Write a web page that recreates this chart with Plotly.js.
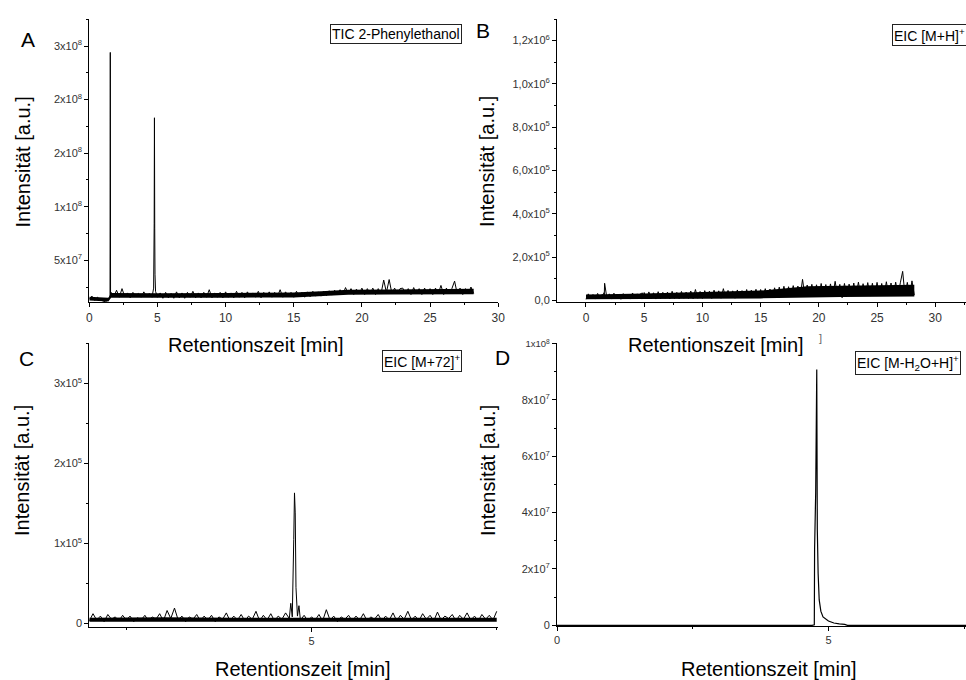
<!DOCTYPE html>
<html>
<head>
<meta charset="utf-8">
<script src="https://cdn.plot.ly/plotly-3.0.1.min.js"></script>
<style>html,body{margin:0;padding:0;background:#fff;}#chart{width:966px;height:680px;}</style>
</head>
<body>
<div id="chart"></div>
<script>
// ---------- DATA ----------
// Retention times (min), shared by TIC (A) and EIC [M+H]+ (B) of the same run
const timeAB = [0,0.2,0.4,0.6,0.8,1,1.2,1.4,
  1.52,1.54,1.56,
  1.6,1.8,2,2.2,2.4,2.6,2.8,3,3.2,3.4,3.6,3.8,4,4.2,4.4,4.6,
  4.72,4.76,4.78,4.8,4.82,4.86,
  5,5.2,5.4,5.6,5.8,6,6.2,6.4,6.6,6.8,
  7,7.2,7.4,7.6,7.8,8,8.2,8.4,8.6,8.8,
  9,9.2,9.4,9.6,9.8,10,10.2,10.4,10.6,10.8,
  11,11.2,11.4,11.6,11.8,12,12.2,12.4,12.6,12.8,
  13,13.2,13.4,13.6,13.8,14,14.2,14.4,14.6,14.8,
  15,15.2,15.4,15.6,15.8,16,16.2,16.4,16.6,16.8,
  17,17.2,17.4,17.6,17.8,18,18.2,18.4,18.6,18.8,
  19,19.2,19.4,19.6,19.8,20,20.2,20.4,20.6,20.8,
  21,21.2,21.4,21.6,21.8,22,22.2,22.4,22.6,22.8,
  23,23.2,23.4,23.6,23.8,24,24.2,24.4,24.6,24.8,
  25,25.2,25.4,25.6,25.8,26,26.2,26.4,26.6,26.8,
  27,27.2,27.4,27.6,27.8,28,28.2];
// A: TIC 2-Phenylethanol, intensity in units of 10^6 a.u.
const ticA_1e6 = [14,16.5,12.5,15.5,13,12,11,14.5,
  15,244,17,
  20,16,22,15.5,23.5,16,19.5,15,20,16.5,19,15.5,20.5,16,19,15.5,
  24,84,183,80,37,21,
  15.5,19.5,14.5,20,15,19,14.5,20.5,15,19.5,
  14.5,20,15.5,21,15,19.5,15,20,15.5,22.5,
  15,19.5,15.5,20,15,20.5,15.5,19.5,15,21,
  15.5,20,15,20.5,16,19.5,15.5,21,15,20,
  16,20.5,15.5,20,16,22.5,15.5,20.5,16,20,
  15.5,21,16,20,15.5,20.5,16,21,16.5,20.5,
  16.5,21,17,21.5,17.5,22,18,22.5,18,24.5,
  18.5,23.5,18,23,18.5,24,18,23.5,18.5,24,
  18,23.5,18.5,31.5,20,32,19,24,18.5,23.5,
  24,18.5,23.5,18,24.5,18.5,23.5,18,24,18.5,
  23.5,18,24,18.5,26.5,18,24,18.5,23.5,30.5,
  18.5,24,18,23.5,18.5,25,19];
// B: EIC [M+H]+, intensity in units of 10^3 a.u.
const eicB_1e3 = [5,30,8,27,6,32,7,28,
  10,35,8,
  79,9,30,6,33,8,29,5,31,9,28,6,34,8,30,7,
  32,8,29,6,35,9,
  36,7,39,9,35,6,40,8,37,10,
  38,7,42,9,37,8,41,10,38,9,
  43,8,50,10,41,9,45,11,42,9,
  47,12,44,10,54,11,46,12,44,10,
  48,13,45,11,50,12,47,14,51,12,
  50,15,54,13,52,16,58,15,61,17,
  65,18,63,17,68,19,66,18,97,20,
  71,19,74,21,72,20,78,22,73,20,
  76,21,88,22,74,12,78,21,75,20,
  80,22,84,21,77,23,82,20,79,22,
  83,21,78,23,86,22,80,21,84,23,
  81,134,22,83,21,90,24];
// Dense core of the baseline noise (lower / upper edge of the solid black band)
const coreTimeAB = [0,1.4,1.6,5,10,15,17,19,22,25,28.2];
const coreA_low_1e6 = [12.5,11.5,15,14.8,15,15.3,16.2,17.8,18,18,18.3];
const coreA_high_1e6 = [16,15,19.5,19.2,19.5,20,21,22.5,22.8,23,23.5];
const coreB_low_1e3 = [5,5,5,6,7,9,12,15,16,17,18];
const coreB_high_1e3 = [27,27,28,32,38,45,55,65,68,70,72];

// C: EIC [M+72]+ (zoomed), time (min) and intensity in units of 10^3 a.u.
const timeC = [2,2.05,2.1,2.15,2.2,2.25,2.3,2.35,2.4,2.45,
  2.5,2.55,2.6,2.65,2.7,2.75,2.8,2.85,2.9,2.95,
  3,3.05,3.1,3.15,3.2,3.25,3.3,3.35,3.4,3.45,
  3.5,3.55,3.6,3.65,3.7,3.75,3.8,3.85,3.9,3.95,
  4,4.05,4.1,4.15,4.2,4.25,4.3,4.35,4.4,4.45,
  4.5,4.55,4.6,4.65,4.7,
  4.72,4.74,4.76,4.77,4.78,4.79,4.81,4.83,
  4.85,4.9,4.95,5,5.05,5.1,5.15,5.2,5.25,5.3,
  5.35,5.4,5.45,5.5,5.55,5.6,5.65,5.7,5.75,5.8,
  5.85,5.9,5.95,6,6.05,6.1,6.15,6.2,6.25,6.3,
  6.35,6.4,6.45,6.5,6.55,6.6,6.65,6.7,6.75,6.8,
  6.85,6.9,6.95,7,7.05,7.1,7.15,7.2,7.25,7.3,
  7.35,7.4,7.45,7.5];
const eicC_1e3 = [3,12,4,9,2,11,5,8,3,10,
  4,9,2,7,4,10,3,8,5,12,
  3,16,6,19,4,9,2,8,5,11,
  3,9,4,10,2,8,5,13,3,9,
  4,11,3,9,5,15,3,10,4,12,
  3,9,5,13,6,
  25,8,105,163,138,45,9,22,
  4,10,3,8,4,11,3,17,4,9,
  2,8,5,10,3,9,4,12,3,8,
  5,11,3,9,4,13,3,10,5,15,
  4,9,3,12,5,10,3,14,4,9,
  6,11,3,10,5,13,4,9,3,11,
  5,10,4,15];
const coreTimeC = [2,3,4,5,6,7,7.5];
const coreC_low_1e3 = [2,2,2,2,2,2,2];
const coreC_high_1e3 = [7,7.5,7,7,7.5,7.5,7];

// D: EIC [M-H2O+H]+, time (min) and intensity in units of 10^6 a.u.
const timeD = [0,4.7,4.74,4.745,4.765,4.785,4.795,4.81,4.83,4.86,4.9,5.0,5.1,5.2,5.3,5.35,7.6];
const eicD_1e6 = [0,0,0.2,27,47,90.8,34,18.5,9,5,3,1.5,0.8,0.5,0.3,0,0];

// Tick values / labels
const tickA_y = [5e7,1e8,1.5e8,2e8,2.5e8];
const tickA_yText = ['5x10<sup>7</sup>','1x10<sup>8</sup>','2x10<sup>8</sup>','2x10<sup>8</sup>','3x10<sup>8</sup>'];
const minorA_y = [2.5e7,7.5e7,1.25e8,1.75e8,2.25e8,2.75e8];
const tickAB_x = [0,5,10,15,20,25,30];
const minorAB_x = [2.5,7.5,12.5,17.5,22.5,27.5,32.5];
const tickB_y = [0,2e5,4e5,6e5,8e5,1e6,1.2e6];
const tickB_yText = ['0,0','2,0x10<sup>5</sup>','4,0x10<sup>5</sup>','6,0x10<sup>5</sup>','8,0x10<sup>5</sup>','1,0x10<sup>6</sup>','1,2x10<sup>6</sup>'];
const minorB_y = [1e5,3e5,5e5,7e5,9e5,1.1e6,1.3e6];
const tickC_y = [0,1e5,2e5,3e5];
const tickC_yText = ['0','1x10<sup>5</sup>','2x10<sup>5</sup>','3x10<sup>5</sup>'];
const minorC_y = [5e4,1.5e5,2.5e5,3.5e5];
const tickCD_x = [0,5];
const minorCD_x = [2.5,7.5];
const tickD_y = [0,2e7,4e7,6e7,8e7,1e8];
const tickD_yText = ['0','2x10<sup>7</sup>','4x10<sup>7</sup>','6x10<sup>7</sup>','8x10<sup>7</sup>','<span style="font-size:9.5px">1x10<sup>8</sup></span>'];
const minorD_y = [1e7,3e7,5e7,7e7,9e7];

const legendTexts = ['TIC 2-Phenylethanol','EIC [M+H]<sup>+</sup>','EIC [M+72]<sup>+</sup>','EIC [M-H<sub>2</sub>O+H]<sup>+</sup>'];
const panelLetters = ['A','B','C','D'];
const xTitle = 'Retentionszeit [min]';
const yTitle = 'Intensität [a.u.]';

// ---------- DRAWING ----------
const W = 966, H = 680;
const px = v => v / W;
const py = v => 1 - v / H;
const FONT = 'Liberation Sans, Arial, sans-serif';
const scale = (arr, f) => arr.map(v => v * f);

const lineStyle = {color: '#000', width: 1, simplify: false};
function band(t, lo, hi, f, xa, ya) {
  return [
    {x: t, y: scale(lo, f), xaxis: xa, yaxis: ya, type: 'scatter', mode: 'lines', line: {width: 0, color: '#000'}, hoverinfo: 'skip'},
    {x: t, y: scale(hi, f), xaxis: xa, yaxis: ya, type: 'scatter', mode: 'lines', line: {width: 0, color: '#000'}, fill: 'tonexty', fillcolor: '#000', hoverinfo: 'skip'}
  ];
}
const traces = [].concat(
  band(coreTimeAB, coreA_low_1e6, coreA_high_1e6, 1e6, 'x', 'y'),
  [{x: timeAB, y: scale(ticA_1e6, 1e6), xaxis: 'x', yaxis: 'y', type: 'scatter', mode: 'lines', line: lineStyle}],
  band(coreTimeAB, coreB_low_1e3, coreB_high_1e3, 1e3, 'x2', 'y2'),
  [{x: timeAB, y: scale(eicB_1e3, 1e3), xaxis: 'x2', yaxis: 'y2', type: 'scatter', mode: 'lines', line: lineStyle}],
  band(coreTimeC, coreC_low_1e3, coreC_high_1e3, 1e3, 'x3', 'y3'),
  [{x: timeC, y: scale(eicC_1e3, 1e3), xaxis: 'x3', yaxis: 'y3', type: 'scatter', mode: 'lines', line: lineStyle}],
  [{x: timeD, y: scale(eicD_1e6, 1e6), xaxis: 'x4', yaxis: 'y4', type: 'scatter', mode: 'lines', line: {color: '#000', width: 1.2, simplify: false}}]
);

function axis(extra, fontSize) {
  return Object.assign({
    showline: true, linecolor: '#000', linewidth: 1,
    showgrid: false, zeroline: false,
    ticks: 'outside', ticklen: 4, tickwidth: 1, tickcolor: '#000',
    tickmode: 'array',
    tickfont: {family: FONT, size: fontSize, color: '#333'},
    fixedrange: true
  }, extra);
}
function minor(vals) {
  return {tickmode: 'array', tickvals: vals, ticks: 'outside', ticklen: 2, tickwidth: 1, tickcolor: '#000', showgrid: false};
}

const domA_x = [px(89.3), px(498.2)];
const domB_x = [px(557), 1];
const domTop_y = [py(302.3), py(19)];
const domC_y = [py(626.7), py(343.3)];
const domD_y = [py(626), py(343.3)];

const layout = {
  width: W, height: H,
  margin: {l: 0, r: 0, t: 0, b: 0},
  paper_bgcolor: '#fff', plot_bgcolor: 'rgba(0,0,0,0)',
  showlegend: false,
  font: {family: FONT, color: '#000', size: 12},
  xaxis: axis({domain: domA_x, anchor: 'y', range: [0, 30], tickvals: tickAB_x, minor: minor(minorAB_x)}, 12),
  yaxis: axis({domain: domTop_y, anchor: 'x', range: [1.075e7, 2.752e8], tickvals: tickA_y, ticktext: tickA_yText, minor: minor(minorA_y)}, 11),
  xaxis2: axis({domain: domB_x, anchor: 'y2', range: [-2.49, 32.64], tickvals: tickAB_x, minor: minor(minorAB_x)}, 12),
  yaxis2: axis({domain: domTop_y, anchor: 'x2', range: [-9e3, 1.30e6], tickvals: tickB_y, ticktext: tickB_yText, minor: minor(minorB_y)}, 11),
  xaxis3: axis({domain: domA_x, anchor: 'y3', range: [2.0, 7.52], tickvals: tickCD_x, minor: minor(minorCD_x)}, 11),
  yaxis3: axis({domain: domC_y, anchor: 'x3', range: [-4.25e3, 3.5e5], tickvals: tickC_y, ticktext: tickC_yText, minor: minor(minorC_y)}, 11),
  xaxis4: axis({domain: domB_x, anchor: 'y4', range: [0, 7.534], tickvals: tickCD_x, minor: minor(minorCD_x)}, 11),
  yaxis4: axis({domain: domD_y, anchor: 'x4', range: [-2.5e5, 1.0012e8], tickvals: tickD_y, ticktext: tickD_yText, minor: minor(minorD_y)}, 11),
  annotations: []
};

const ann = layout.annotations;
// panel letters
[[28, 39], [483.5, 31], [26, 358], [503, 357]].forEach((p, i) => {
  ann.push({xref: 'paper', yref: 'paper', x: px(p[0]), y: py(p[1]), xanchor: 'center', yanchor: 'middle',
    text: panelLetters[i], showarrow: false, font: {family: FONT, size: 21, color: '#000'}});
});
// y titles
[[22.5, 162], [487, 162], [22, 471], [488, 471]].forEach(p => {
  ann.push({xref: 'paper', yref: 'paper', x: px(p[0]), y: py(p[1]), xanchor: 'center', yanchor: 'middle',
    text: yTitle, textangle: -90, showarrow: false, font: {family: FONT, size: 20, color: '#000'}});
});
// x titles
[[256, 345], [716, 345], [303, 669], [769, 669]].forEach(p => {
  ann.push({xref: 'paper', yref: 'paper', x: px(p[0]), y: py(p[1]), xanchor: 'center', yanchor: 'middle',
    text: xTitle, showarrow: false, font: {family: FONT, size: 20, color: '#000'}});
});
// legend boxes
[[330, 24.3], [891.7, 24.3], [381.7, 350], [855, 350.7]].forEach((p, i) => {
  ann.push({xref: 'paper', yref: 'paper', x: px(p[0]), y: py(p[1]), xanchor: 'left', yanchor: 'top',
    text: legendTexts[i], showarrow: false, bgcolor: '#fff', bordercolor: '#222', borderwidth: 1, borderpad: 1,
    font: {family: FONT, size: 14, color: '#000'}});
});
// stray bracket fragment visible between panels
ann.push({xref: 'paper', yref: 'paper', x: px(820), y: py(338), xanchor: 'center', yanchor: 'middle',
  text: ']', showarrow: false, font: {family: FONT, size: 11, color: '#666'}});

Plotly.newPlot('chart', traces, layout, {staticPlot: true, displayModeBar: false});
</script>
</body>
</html>
